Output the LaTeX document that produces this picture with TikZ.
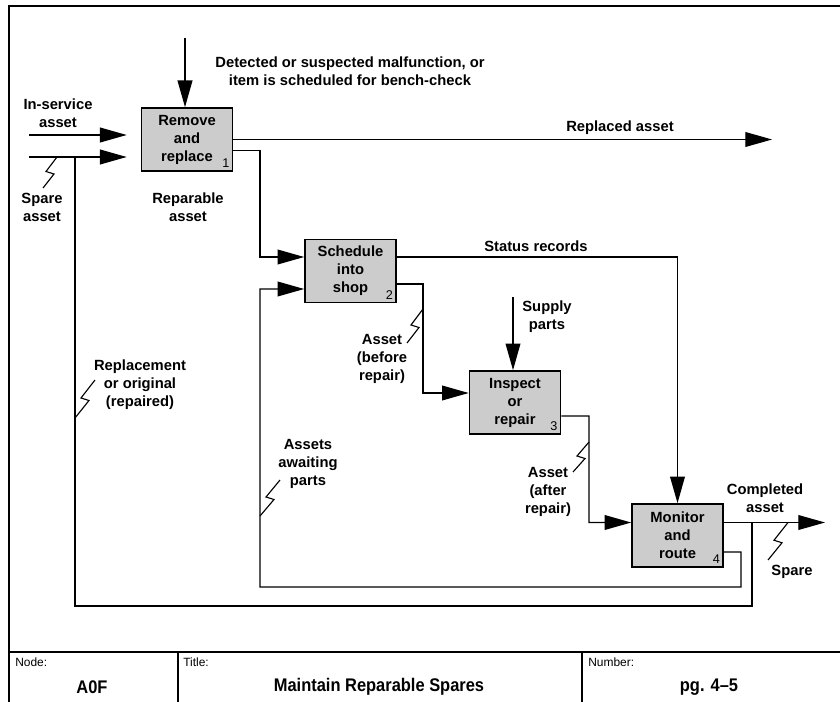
\documentclass[tikz,border=0pt]{standalone}
\usepackage{fontspec}
\setmainfont{Liberation Sans}
\newfontfamily\narrowfont[FakeStretch=0.9]{Liberation Sans}
\usetikzlibrary{arrows.meta,calc}
\newcommand{\squig}[2]{\draw[thin line] (#1) -- ($(#1)!0.5!(#2)+(4,1.5)$) -- ($(#1)!0.5!(#2)+(-4,-1)$) -- (#2);}
\begin{document}
\begin{tikzpicture}[x=0.025cm,y=-0.025cm,
  act/.style={draw, line width=1.1pt, fill=gray!40, minimum width=2.275cm, minimum height=1.575cm, align=center, inner sep=0pt, font=\bfseries\fontsize{10.5}{12.8}\selectfont},
  num/.style={anchor=south east, inner sep=2.5pt, font=\fontsize{9}{9}\selectfont},
  lbl/.style={align=center, inner sep=0pt, font=\bfseries\fontsize{10.5}{12.8}\selectfont},
  flow/.style={line width=1pt, -{Triangle[length=19pt,width=10.5pt]}},
  line/.style={line width=1pt},
  thin line/.style={line width=0.8pt},
  frame/.style={line width=1.4pt},
  small/.style={anchor=west, inner sep=0pt, font=\fontsize{8.5}{9}\selectfont},
  big/.style={inner sep=0pt, font=\narrowfont\bfseries\fontsize{13}{14}\selectfont}]
\useasboundingbox (0,0) rectangle (840,702);
\draw[frame] (9,702) -- (9,6) -- (840,6);
\draw[frame] (9,652) -- (840,652);
\draw[frame] (178,652) -- (178,702);
\draw[frame] (582,652) -- (582,702);
\node[small] (tnode) at (15,662) {Node:};
\node[small] (ttitle) at (183,662) {Title:};
\node[small] (tnumber) at (588,662) {Number:};
\node[big] (vnode) at (92,687) {A0F};
\node[big] (vtitle) at (379,687) {Maintain Reparable Spares};
\node[big] (vnumber) at (709,687) {pg. 4–5};
\node[act] (b1) at (187,139.5) {Remove\\and\\replace};
\node[act] (b2) at (350.5,271) {Schedule\\into\\shop};
\node[act] (b3) at (515,402.5) {Inspect\\or\\repair};
\node[act] (b4) at (677.5,535.5) {Monitor\\and\\route};
\node[num] (n1) at (b1.south east) {1};
\node[num] (n2) at (b2.south east) {2};
\node[num] (n3) at (b3.south east) {3};
\node[num] (n4) at (b4.south east) {4};
\coordinate (ctl) at (185,38);
\coordinate (insvc) at (29,135);
\coordinate (spare) at (29,157);
\coordinate (replaced) at (772,139.5);
\coordinate (supply) at (513,297);
\coordinate (done) at (825,522.5);
\coordinate (j1) at (752,522.5);
\coordinate (j2) at (75,157);
\draw[flow] (ctl) -- (ctl |- b1.north);
\draw[flow, shorten >=0.35cm] (insvc) -- (insvc -| b1.west);
\draw[flow, shorten >=0.35cm] (spare) -- (spare -| b1.west);
\draw[flow] (b1.east) -- (replaced);
\draw[flow] ($(b1.east)+(0,11)$) -- (260,150.5) |- ($(b2.west)+(0,-14)$);
\draw[flow] ($(b2.east)+(0,-14)$) -| (b4.north);
\draw[flow] ($(b2.east)+(0,13)$) -- (423,284) |- ($(b3.west)+(0,-9.5)$);
\draw[flow] (supply) -- (supply |- b3.north);
\draw[flow] ($(b3.east)+(0,13.5)$) -- (589,416) |- ($(b4.west)+(0,-13)$);
\draw[flow] ($(b4.east)+(0,-13)$) -- (done);
\draw[line] (j1) |- (75,606) -- (j2);
\draw[flow] ($(b4.east)+(0,16.5)$) -- (741,552) |- (260,587) |- ($(b2.west)+(0,18)$);
\node[lbl] (ldetect) at (350,71) {Detected or suspected malfunction, or\\item is scheduled for bench-check};
\node[lbl] (linsvc) at (58,113) {In-service\\asset};
\node[lbl] (lspare) at (42,207) {Spare\\asset};
\node[lbl] (lrepar) at (188,207) {Reparable\\asset};
\node[lbl] (lreplaced) at (620,128) {Replaced asset};
\node[lbl] (lstatus) at (536,246) {Status records};
\node[lbl] (lbefore) at (382,359) {Asset\\(before\\repair)};
\node[lbl] (lsupply) at (547,317) {Supply\\parts};
\node[lbl] (lreplace) at (140,385) {Replacement\\or original\\(repaired)};
\node[lbl] (lawait) at (308,464) {Assets\\awaiting\\parts};
\node[lbl] (lafter) at (548,492) {Asset\\(after\\repair)};
\node[lbl] (ldone) at (765,498) {Completed\\asset};
\node[lbl] (lspare2) at (792,572) {Spare};
\squig{43,188}{57,157}
\squig{75,418}{95,380}
\squig{260,516}{280,480}
\squig{407,343}{423,309}
\squig{573,472}{589,442}
\squig{768,560}{788,522.5}
\end{tikzpicture}
\end{document}
